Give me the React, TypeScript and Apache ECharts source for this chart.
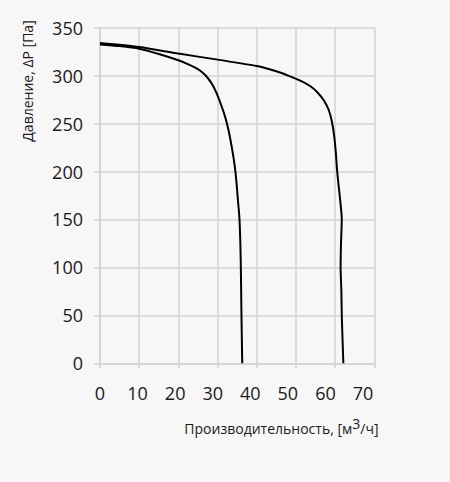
import React, { useEffect, useRef } from "react";
import * as echarts from "echarts";

const xTicks = [0, 10, 20, 30, 40, 50, 60, 70];
const yTicks = [0, 50, 100, 150, 200, 250, 300, 350];

const curve1X = [0, 5, 10, 15, 20, 22.1, 24.3, 26.0, 27.3, 28.5, 29.8, 31.1, 32.0, 32.8, 33.6, 34.3, 34.8, 35.2, 35.6, 35.9, 36.1, 36.3];
const curve1Y = [332.6, 330.8, 328, 322.5, 316, 312.5, 308.3, 303.8, 298.6, 291.7, 281.3, 267.3, 256, 243, 226, 208.3, 190, 170, 150, 110, 50, 0];

const curve2X = [0, 10, 20, 30, 40, 45, 48.5, 51.9, 53.7, 55.4, 57.1, 58.4, 59.2, 59.8, 60.2, 60.5, 60.9, 61.3, 61.7, 61.5, 61.4, 61.6, 61.7, 62.1];
const curve2Y = [334, 329.8, 323, 316.7, 310, 304.5, 299.3, 293.3, 288.9, 283, 274.3, 263.9, 251.7, 236, 218.8, 201.4, 185, 170, 150, 125, 100, 75, 50, 0];

const xTitle = "Производительность, [м";
const xTitleSup = "3";
const xTitleEnd = "/ч]";
const yTitle = "Давление, ΔP [Па]";

const FONT = "'Open Sans', 'DejaVu Sans', sans-serif";
const GRID = "#d3d3d3";
const TEXT = "#1a1a1a";

export default function App() {
  const ref = useRef<HTMLDivElement>(null);
  useEffect(() => {
    if (!ref.current) return;
    const chart = echarts.init(ref.current, undefined, { renderer: "svg" });
    const zip = (xs: number[], ys: number[]) => xs.map((x, i) => [x, ys[i]]);
    chart.setOption({
      animation: false,
      backgroundColor: "#f7f7f7",
      textStyle: { fontFamily: FONT },
      grid: { left: 100, right: 75.7, top: 27.7, bottom: 118.7, containLabel: false },
      xAxis: [
        {
          type: "value",
          min: xTicks[0],
          max: xTicks[xTicks.length - 1],
          interval: 10,
          axisLine: { show: true, lineStyle: { color: GRID, width: 1.5 } },
          axisTick: { show: true, inside: false, length: 5, lineStyle: { color: GRID, width: 1.5 } },
          axisLabel: { show: false },
          splitLine: { show: true, lineStyle: { color: GRID, width: 1.5 } },
        },
        {
          type: "value",
          position: "bottom",
          min: 0,
          max: 73,
          interval: 10,
          axisLine: { show: false },
          axisTick: { show: false },
          splitLine: { show: false },
          axisLabel: {
            show: true,
            margin: 21,
            fontSize: 18,
            color: TEXT,
            fontFamily: FONT,
            showMaxLabel: false,
            formatter: (v: number) => (xTicks.includes(v) ? String(v) : ""),
          },
        },
      ],
      yAxis: {
        type: "value",
        min: yTicks[0],
        max: yTicks[yTicks.length - 1],
        interval: 50,
        axisLine: { show: true, lineStyle: { color: GRID, width: 1.5 } },
        axisTick: { show: true, inside: false, length: 6, lineStyle: { color: GRID, width: 1.5 } },
        axisLabel: { show: true, margin: 17, fontSize: 18, color: TEXT, fontFamily: FONT },
        splitLine: { show: true, lineStyle: { color: GRID, width: 1.5 } },
      },
      series: [
        {
          type: "line",
          xAxisIndex: 0,
          data: zip(curve1X, curve1Y),
          smooth: 0.25,
          showSymbol: false,
          lineStyle: { color: "#000", width: 2 },
        },
        {
          type: "line",
          xAxisIndex: 0,
          data: zip(curve2X, curve2Y),
          smooth: 0.25,
          showSymbol: false,
          lineStyle: { color: "#000", width: 2 },
        },
      ],
      graphic: [
        {
          type: "text",
          right: 450 - 378.5,
          top: 416,
          style: {
            text: `{a|${xTitle}}{s|${xTitleSup}}{a|${xTitleEnd}}`,
            rich: {
              a: { fontSize: 14, fontFamily: FONT, fill: TEXT, verticalAlign: "bottom", lineHeight: 22 },
              s: { fontSize: 14, fontFamily: FONT, fill: TEXT, verticalAlign: "bottom", lineHeight: 22, padding: [0, 0, 5, 0] },
            },
          },
        },
        {
          type: "text",
          x: 27,
          y: 81,
          rotation: Math.PI / 2,
          style: {
            text: yTitle,
            fontSize: 14,
            fontFamily: FONT,
            fill: TEXT,
            align: "center",
            verticalAlign: "middle",
          },
        },
      ],
    });
    return () => chart.dispose();
  }, []);
  return (
    <div
      ref={ref}
      style={{ position: "fixed", left: 0, top: 0, width: 450, height: 482, background: "#f7f7f7" }}
    />
  );
}
